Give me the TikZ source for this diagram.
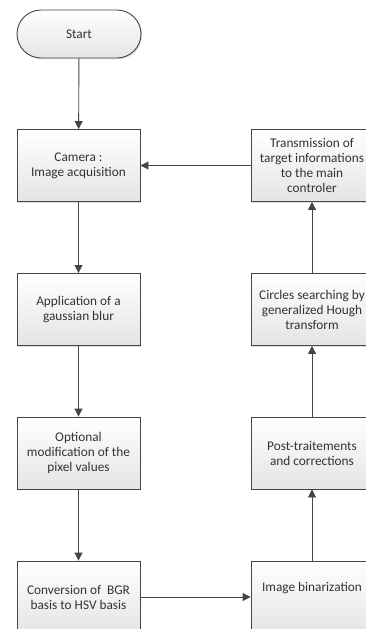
\documentclass[tikz,border=0pt]{standalone}
\usepackage{fontspec}
\setmainfont{Carlito}
\usepackage{tikz}
\usetikzlibrary{arrows.meta,shadows,positioning}

\definecolor{txt}{HTML}{333333}
\definecolor{edge}{HTML}{454545}
\definecolor{boxbottom}{HTML}{E4E4E4}

\begin{document}
\begin{tikzpicture}[x=1pt, y=-1pt,
  font=\fontsize{13.3}{15}\selectfont,
  stepbox/.style={draw=edge, line width=0.9pt, top color=white, bottom color=boxbottom,
    minimum width=123pt, minimum height=72pt, align=center, text=txt, inner sep=1pt,
    drop shadow={shadow xshift=1.2pt, shadow yshift=-1.2pt, opacity=0.25}},
  termbox/.style={stepbox, rounded corners=24pt, minimum height=48pt, minimum width=124pt},
  flow/.style={draw=edge, line width=0.9pt, -{Triangle[length=8pt,width=8pt]}}]
\useasboundingbox (0,0) rectangle (366,629);
\clip (0,0) rectangle (366,629);

% Left column
\node[termbox] (start) at (79,34) {Start};
\node[stepbox] (camera) at (78.5,165.5) {Camera :\\Image acquisition};
\node[stepbox] (blur) at (78.5,309.5) {Application of a\\gaussian blur};
\node[stepbox] (modif) at (78.5,453) {Optional\\modification of the\\pixel values};
\node[stepbox] (conv) at (78.5,597) {Conversion of \ BGR\\basis to HSV basis};

% Right column
\node[stepbox, minimum width=122pt] (binar) at (312,597) {\rule[-20pt]{0pt}{20pt}Image binarization};
\node[stepbox, minimum width=122pt] (post) at (312,453) {Post-traitements\\and corrections};
\node[stepbox, minimum width=122pt] (hough) at (312,309.5) {Circles searching by\\generalized Hough\\transform};
\node[stepbox, minimum width=122pt] (trans) at (312,165.5) {Transmission of\\target informations\\to the main\\controler};

% Connectors
\draw[flow] (start) -- (camera);
\draw[flow] (camera) -- (blur);
\draw[flow] (blur) -- (modif);
\draw[flow] (modif) -- (conv);
\draw[flow] (conv) -- (binar);
\draw[flow] (binar) -- (post);
\draw[flow] (post) -- (hough);
\draw[flow] (hough) -- (trans);
\draw[flow] (trans) -- (camera);
\end{tikzpicture}
\end{document}
